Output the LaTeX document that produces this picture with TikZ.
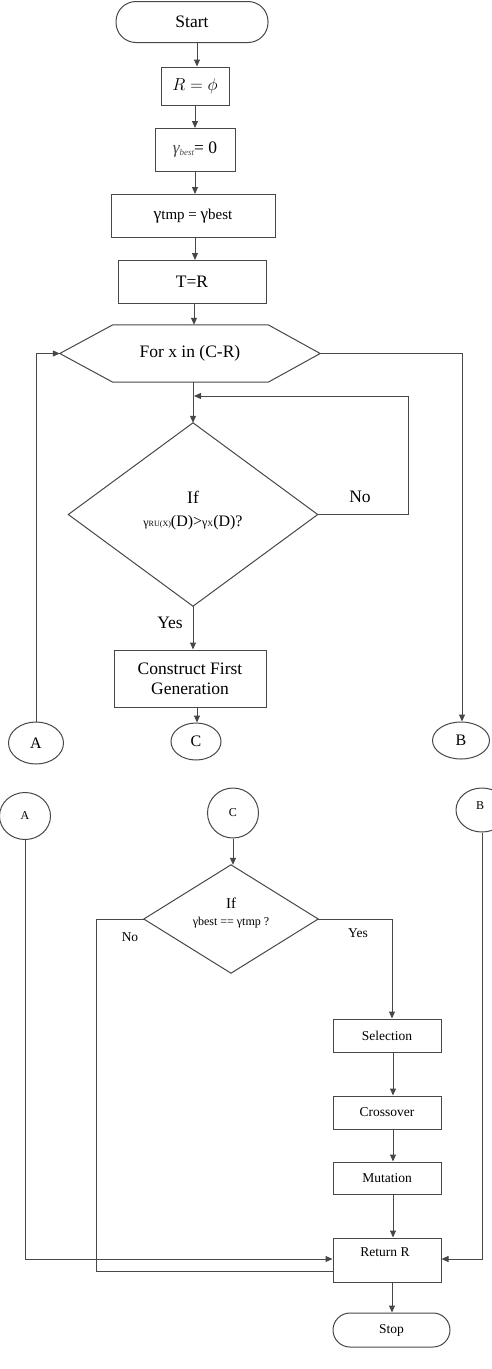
\documentclass[tikz,border=0pt]{standalone}
\usepackage{fontspec}
\setmainfont{Liberation Serif}
\usetikzlibrary{shapes.geometric,arrows.meta,calc}
\begin{document}
\begin{tikzpicture}[x=1pt,y=-1pt,
  ln/.style={draw=black!72, line width=1pt},
  arr/.style={ln, -{Triangle[length=7pt,width=6pt]}},
  boxn/.style={ln, rectangle, inner sep=0pt, align=center, font=\fontsize{17.5}{20}\selectfont},
  sboxn/.style={ln, rectangle, inner sep=0pt, align=center, font=\fontsize{13.5}{15}\selectfont},
  term/.style={ln, rectangle, rounded corners=#1, inner sep=0pt},
  conn/.style={ln, ellipse, inner sep=0pt, font=\fontsize{16}{18}\selectfont},
  sconn/.style={ln, ellipse, inner sep=0pt, font=\fontsize{12}{14}\selectfont},
  lbl/.style={inner sep=0pt, font=\fontsize{17.5}{20}\selectfont},
  slbl/.style={inner sep=0pt, font=\fontsize{13.5}{15}\selectfont}]
\useasboundingbox (0,0) rectangle (491,1369);
% top part
\node[term=20pt, minimum width=152, minimum height=41, font=\fontsize{17.5}{20}\selectfont] (start) at (192,22) {Start};
\node[boxn, minimum width=68, minimum height=38] (rphi) at (195,86) {$R=\phi$};
\node[boxn, minimum width=80, minimum height=43] (gbest) at (195,150) {{\itshape\color{black!70}γ\fontsize{9}{10}\selectfont\raisebox{-2pt}{best}}= 0};
\node[boxn, minimum width=164, minimum height=43] (gtmp) at (193,216) {γ\fontsize{15}{18}\selectfont tmp = \fontsize{17}{20}\selectfont γ\fontsize{15}{18}\selectfont best};
\node[boxn, minimum width=148, minimum height=43] (tr) at (192,282) {T=R};
\node[inner sep=0pt, minimum width=260, minimum height=57, font=\fontsize{17.5}{20}\selectfont] (for) at (190,353.5) {For x in (C-R)};
\draw[ln] (for.west) -- ([xshift=53]for.north west) -- ([xshift=-52]for.north east) -- (for.east) -- ([xshift=-52]for.south east) -- ([xshift=53]for.south west) -- cycle;
\node[inner sep=0pt, minimum width=249, minimum height=183] (d1) at (193,514.5) {};
\draw[ln] (d1.north) -- (d1.east) -- (d1.south) -- (d1.west) -- cycle;
\node[lbl] (if1) at (193,497) {If};
\node[inner sep=0pt, font=\fontsize{16}{18}\selectfont] (f1) at (193,523) {{\fontsize{12}{14}\selectfont γ\fontsize{8}{10}\selectfont RU(X)}(D)>{\fontsize{12}{14}\selectfont γ\fontsize{8}{10}\selectfont X}(D)?};
\node[lbl] (no1) at (360,497) {No};
\node[lbl] (yes1) at (170,623) {Yes};
\node[boxn, minimum width=152, minimum height=57] (cons) at (190,678.5) {Construct First\\Generation};
\node[conn, minimum width=55, minimum height=42] (cA) at (36,743) {A};
\node[conn, minimum width=50, minimum height=37] (cC) at (196,741.5) {C};
\node[conn, minimum width=57, minimum height=37] (cB) at (461,740.5) {B};
\coordinate (j) at (194,396);
% bottom part
\node[sconn, minimum width=51, minimum height=47] (A2) at (25,816) {A};
\node[sconn, minimum width=51, minimum height=50] (C2) at (233,813) {C};
\node[sconn, minimum width=52, minimum height=44] (B2) at (482,810) {};
\node[slbl, font=\fontsize{12}{14}\selectfont] at (480,806) {B};
\node[inner sep=0pt, minimum width=174, minimum height=108] (d2) at (231,919) {};
\draw[ln] (d2.north) -- (d2.east) -- (d2.south) -- (d2.west) -- cycle;
\node[slbl, font=\fontsize{15}{17}\selectfont] (if2) at (231,903) {If};
\node[inner sep=0pt, font=\fontsize{12}{14}\selectfont] (f2) at (231,923) {γbest == γtmp ?};
\node[slbl] (no2) at (130,937) {No};
\node[slbl] (yes2) at (358,933) {Yes};
\node[sboxn, minimum width=108, minimum height=33] (sel) at (387,1035.5) {Selection};
\node[sboxn, minimum width=108, minimum height=33] (cross) at (387,1112.5) {Crossover};
\node[sboxn, minimum width=108, minimum height=32] (mut) at (387,1178) {Mutation};
\node[ln, rectangle, minimum width=108, minimum height=44, inner sep=0pt] (ret) at (387,1260) {};
\node[slbl] at (385,1252) {Return R};
\node[term=17pt, minimum width=117, minimum height=34, font=\fontsize{13.5}{15}\selectfont] (stop) at (391.5,1330) {Stop};
% connectors top
\draw[arr] ([xshift=5]start.south) -- ([xshift=5]start.south |- rphi.north);
\draw[arr] (rphi.south) -- (rphi.south |- gbest.north);
\draw[arr] (gbest.south) -- (gbest.south |- gtmp.north);
\draw[arr] ([xshift=2]gtmp.south) -- ([xshift=2]gtmp.south |- tr.north);
\draw[arr] ([xshift=2]tr.south) -- ([xshift=2]tr.south |- for.north);
\draw[arr] (for.south -| d1.north) -- (d1.north);
\draw[arr] (d1.east) -- ++(91,0) |- (j);
\draw[arr] (d1.south) -- (d1.south |- cons.north);
\draw[arr] ([xshift=7]cons.south) -- ([xshift=7]cons.south |- cC.north);
\draw[arr] (cA.north) |- (for.west);
\draw[arr] (for.east) -| ([xshift=1]cB.north);
% connectors bottom
\draw[arr] (C2.south) -- (C2.south |- d2.north);
\draw[arr] (d2.east) -| ([xshift=5]sel.north);
\draw[arr] ([xshift=6]sel.south) -- ([xshift=6]sel.south |- cross.north);
\draw[arr] ([xshift=6]cross.south) -- ([xshift=6]cross.south |- mut.north);
\draw[arr] ([xshift=6]mut.south) -- ([xshift=6]mut.south |- ret.north);
\draw[arr] ([xshift=5]ret.south) -- ([xshift=5]ret.south |- stop.north);
\draw[arr] (A2.south) |- ([yshift=1]ret.west);
\draw[ln] (d2.west) -- ++(-47,0) |- ([yshift=-11]ret.west);
\draw[arr] (B2.south) |- ([yshift=1]ret.east);
\end{tikzpicture}
\end{document}
